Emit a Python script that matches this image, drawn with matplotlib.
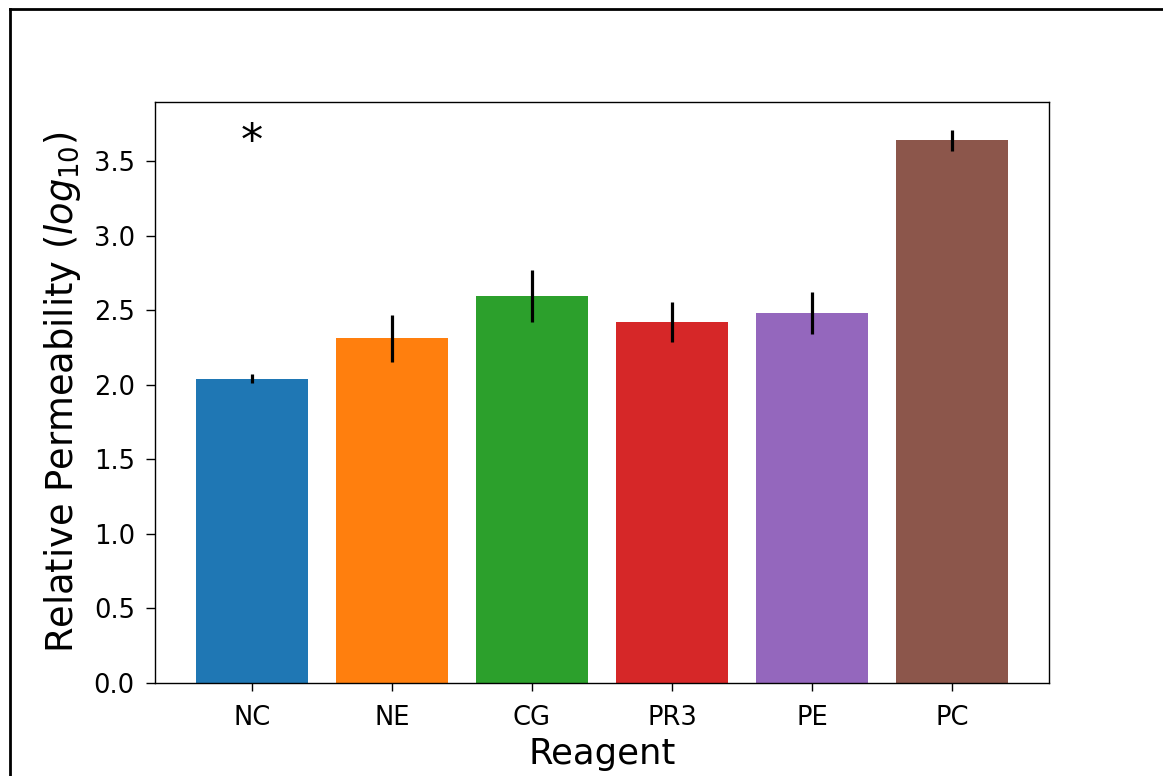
import numpy as np
import matplotlib
matplotlib.use('Agg')
import matplotlib.pyplot as plt
from matplotlib.lines import Line2D

# Reagent permeability values (log10) and error bars
reagents = ['NC', 'NE', 'CG', 'PR3', 'PE', 'PC']
permeability = [2.04, 2.31, 2.595, 2.42, 2.48, 3.64]
errors = [0.03, 0.16, 0.175, 0.135, 0.14, 0.07]
colors = ['#1f77b4', '#ff7f0e', '#2ca02c', '#d62728', '#9467bd', '#8c564b']

fig = plt.figure(figsize=(11.63, 7.76), dpi=100)
ax = fig.add_axes([155 / 1163, 1 - 683 / 776, (1049 - 155) / 1163, (683 - 102) / 776])

x = np.arange(len(reagents))
ax.bar(x, permeability, yerr=errors, color=colors, width=0.8,
       error_kw=dict(ecolor='black', elinewidth=2.3, capsize=0))

# significance marker over the negative control
ax.text(0, 3.54, '*', ha='center', va='baseline', fontsize=32)

ax.set_xticks(x)
ax.set_xticklabels(reagents)
ax.set_xlabel('Reagent', fontsize=25.5, labelpad=5)
ax.set_ylabel('Relative Permeability ($log_{10}$)', fontsize=26.5, labelpad=8)
ax.tick_params(labelsize=18.5, width=1)
ax.tick_params(axis='x', length=5.5, pad=10)
ax.tick_params(axis='y', length=6.5, pad=8)
for s in ax.spines.values():
    s.set_linewidth(1)

# frame around the figure (only left and top edges visible)
fig.add_artist(Line2D([0.0085, 0.0085], [0, 0.989], transform=fig.transFigure, color='black', lw=2))
fig.add_artist(Line2D([0.0085, 1], [0.989, 0.989], transform=fig.transFigure, color='black', lw=2))

plt.savefig('out.png', dpi=100)
